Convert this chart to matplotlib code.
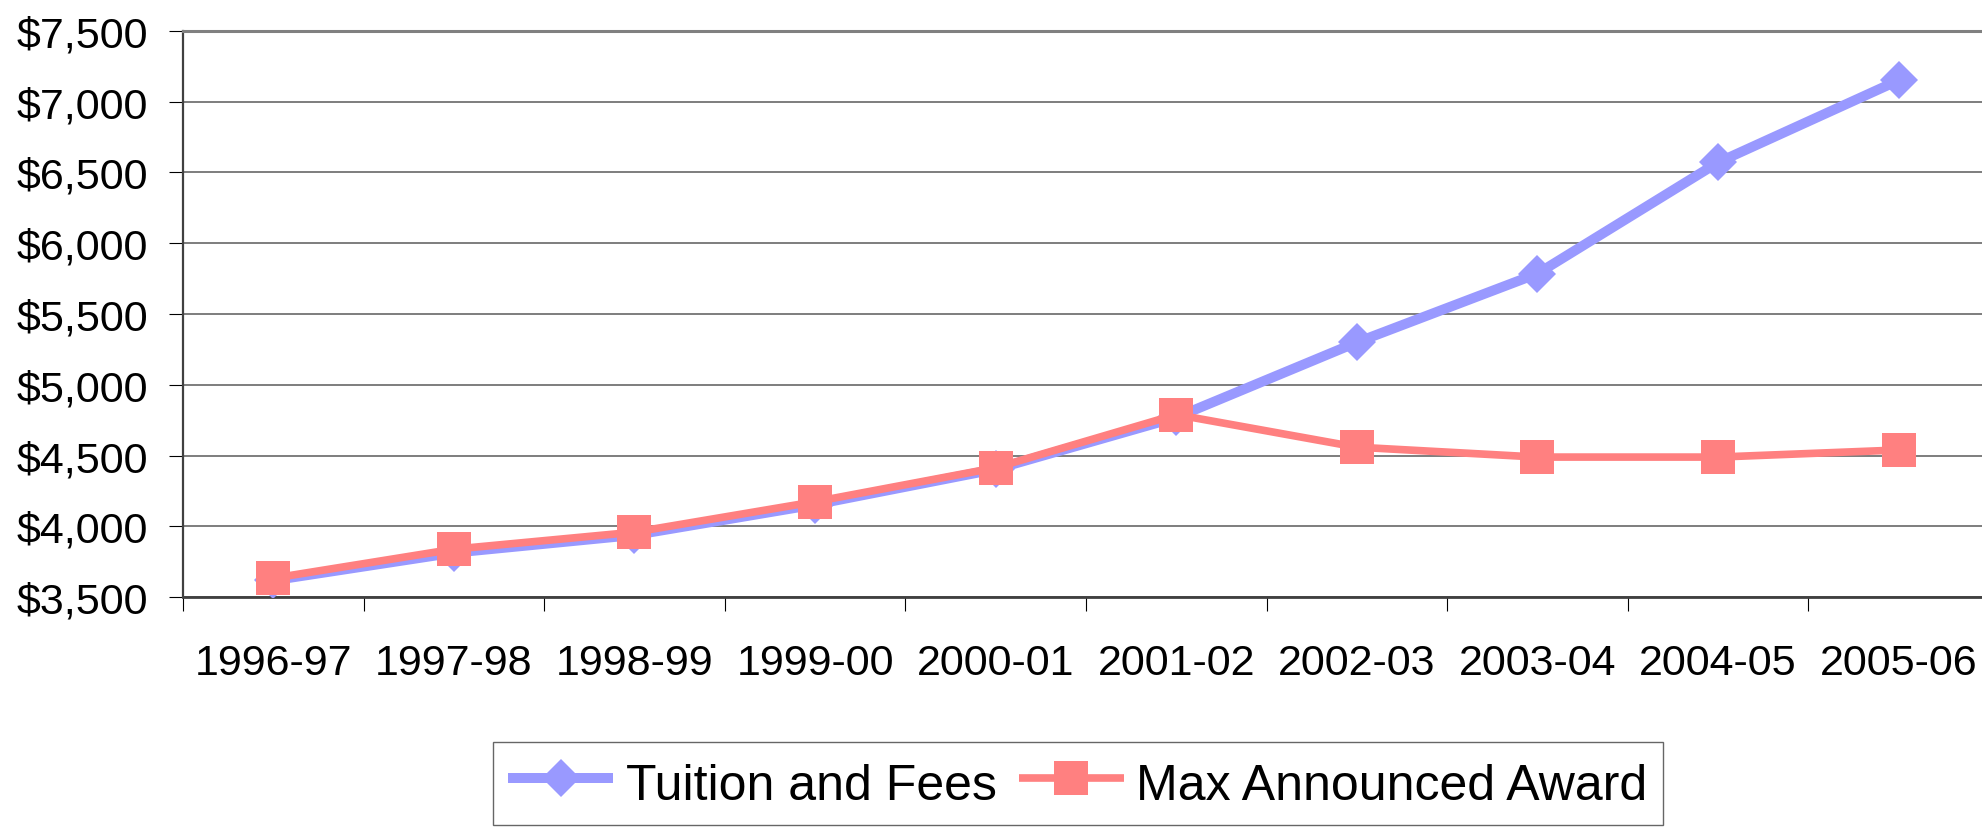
import matplotlib
matplotlib.use("Agg")
import matplotlib.pyplot as plt
from matplotlib.ticker import FuncFormatter, FixedLocator, MultipleLocator

plt.rcParams['font.family'] = ['Liberation Sans', 'DejaVu Sans']

years = ['1996-97', '1997-98', '1998-99', '1999-00', '2000-01',
         '2001-02', '2002-03', '2003-04', '2004-05', '2005-06']
tuition = [3620, 3815, 3940, 4155, 4405, 4770, 5300, 5785, 6570, 7150]
max_award = [3635, 3840, 3960, 4175, 4415, 4790, 4560, 4490, 4490, 4540]

fig = plt.figure(figsize=(19.82, 8.28), dpi=100)
ax = fig.add_axes([0.0923, 0.2774, 0.9112, 0.6843])

x = range(len(years))
ax.plot(x, tuition, color='#9999FF', lw=7.2, marker='D', ms=19.3, mew=0,
        label='Tuition and Fees', solid_capstyle='butt', zorder=3)
ax.plot(x, max_award, color='#FF8080', lw=5.5, marker='s', ms=25, mew=0,
        label='Max Announced Award', solid_capstyle='butt', zorder=4)

ax.set_xlim(-0.5, len(years) - 0.5)
ax.set_ylim(3500, 7500)

# category labels at centres, tick marks on the boundaries
ax.set_xticks(list(x))
ax.set_xticklabels(years, fontsize=31)
ax.xaxis.set_minor_locator(FixedLocator([i - 0.5 for i in range(len(years) + 1)]))
ax.tick_params(axis='x', which='major', length=0, pad=33)
ax.tick_params(axis='x', which='minor', length=10, width=0.8, color='black',
               direction='out')

ax.yaxis.set_major_locator(MultipleLocator(500))
ax.yaxis.set_major_formatter(FuncFormatter(lambda v, p: r'\$' + f'{v:,.0f}'))
ax.tick_params(axis='y', labelsize=31, length=10, width=0.8, color='black',
               direction='out', pad=15)

ax.grid(axis='y', color='#5a5a5a', lw=1.1, zorder=1)
ax.set_axisbelow(True)

ax.spines['right'].set_visible(False)
ax.spines['top'].set_color('#808080')
ax.spines['top'].set_linewidth(2.2)
ax.spines['left'].set_color('#404040')
ax.spines['left'].set_linewidth(1.6)
ax.spines['bottom'].set_color('#404040')
ax.spines['bottom'].set_linewidth(2.0)

leg = fig.legend(loc='upper left', bbox_to_anchor=(493 / 1982, 1 - 743 / 828),
                 ncol=2, fontsize=36, frameon=True, fancybox=False,
                 borderaxespad=0, borderpad=0.3, handlelength=2.1,
                 handleheight=1.2, handletextpad=0.25, columnspacing=0.45,
                 numpoints=1)
leg.get_frame().set_edgecolor('#404040')
leg.get_frame().set_linewidth(1.0)

fig.savefig('out.png', dpi=100)
